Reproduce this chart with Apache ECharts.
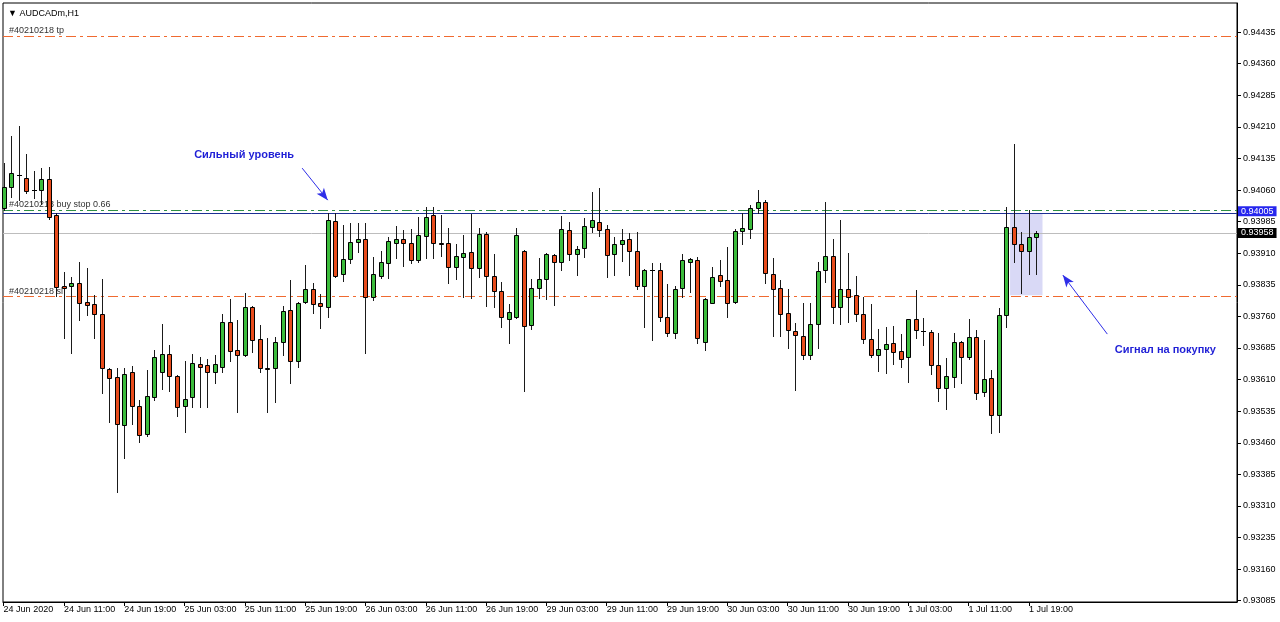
<!DOCTYPE html>
<html>
<head>
<meta charset="utf-8">
<script src="https://cdn.jsdelivr.net/npm/echarts@6/dist/echarts.min.js"></script>
<style>
html,body{margin:0;padding:0;background:#fff;}
#chart{width:1280px;height:622px;}
</style>
</head>
<body>
<div id="chart"></div>
<script>
// ---- Data (AUDCADm, H1) : one value per hourly bar, bar 0 = 24 Jun 03:00 ----
const open = [
0.94017,0.94068,0.94096,0.94088,0.94060,0.94060,0.94086,0.94001,0.93832,0.93831,
0.93840,0.93794,0.93790,0.93766,0.93635,0.93615,0.93502,0.93627,0.93547,0.93480,
0.93568,0.93629,0.93670,0.93619,0.93548,0.93568,0.93646,0.93645,0.93629,0.93641,
0.93746,0.93680,0.93668,0.93782,0.93706,0.93637,0.93637,0.93699,0.93775,0.93653,
0.93794,0.93824,0.93793,0.93783,0.93986,0.93860,0.93897,0.93937,0.93944,0.93805,
0.93857,0.93886,0.93935,0.93944,0.93934,0.93894,0.93951,0.94000,0.93934,0.93934,
0.93878,0.93902,0.93914,0.93874,0.93956,0.93857,0.93820,0.93754,0.93759,0.93916,
0.93739,0.93828,0.93848,0.93905,0.93890,0.93965,0.93908,0.93922,0.93972,0.93985,
0.93967,0.93908,0.93932,0.93943,0.93916,0.93833,0.93871,0.93869,0.93759,0.93720,
0.93827,0.93888,0.93894,0.93700,0.93793,0.93858,0.93846,0.93794,0.93963,0.93968,
0.94018,0.94032,0.93861,0.93827,0.93768,0.93725,0.93714,0.93668,0.93741,0.93870,
0.93904,0.93783,0.93825,0.93811,0.93766,0.93706,0.93668,0.93682,0.93698,0.93678,
0.93663,0.93753,0.93726,0.93724,0.93645,0.93591,0.93617,0.93699,0.93664,0.93710,
0.93581,0.93613,0.93526,0.93763,0.93973,0.93932,0.93915,0.93949
];
const close = [
0.94067,0.94100,0.94095,0.94058,0.94060,0.94086,0.93996,0.93830,0.93827,0.93840,
0.93793,0.93788,0.93766,0.93637,0.93613,0.93504,0.93623,0.93547,0.93479,0.93570,
0.93663,0.93670,0.93619,0.93544,0.93564,0.93649,0.93639,0.93629,0.93646,0.93746,
0.93679,0.93668,0.93782,0.93704,0.93637,0.93636,0.93699,0.93773,0.93653,0.93793,
0.93824,0.93790,0.93785,0.93989,0.93857,0.93897,0.93936,0.93943,0.93805,0.93860,
0.93888,0.93940,0.93944,0.93934,0.93894,0.93953,0.93997,0.93934,0.93933,0.93878,
0.93904,0.93911,0.93874,0.93956,0.93857,0.93821,0.93758,0.93770,0.93953,0.93737,
0.93827,0.93849,0.93907,0.93890,0.93967,0.93908,0.93919,0.93975,0.93989,0.93965,
0.93906,0.93931,0.93941,0.93916,0.93832,0.93869,0.93870,0.93759,0.93720,0.93824,
0.93894,0.93896,0.93708,0.93801,0.93853,0.93843,0.93791,0.93963,0.93969,0.94017,
0.94032,0.93864,0.93826,0.93765,0.93728,0.93716,0.93668,0.93741,0.93868,0.93904,
0.93783,0.93824,0.93807,0.93765,0.93706,0.93668,0.93683,0.93695,0.93676,0.93658,
0.93753,0.93727,0.93726,0.93645,0.93591,0.93619,0.93699,0.93663,0.93710,0.93579,
0.93612,0.93526,0.93763,0.93973,0.93932,0.93915,0.93949,0.93958
];
const high = [
0.94124,0.94188,0.94212,0.94145,0.94105,0.94112,0.94115,0.94005,0.93865,0.93854,
0.93890,0.93875,0.93811,0.93849,0.93638,0.93637,0.93637,0.93642,0.93562,0.93633,
0.93680,0.93742,0.93692,0.93621,0.93655,0.93671,0.93663,0.93658,0.93668,0.93766,
0.93801,0.93752,0.93815,0.93785,0.93740,0.93709,0.93712,0.93785,0.93846,0.93795,
0.93882,0.93840,0.93813,0.94005,0.94006,0.93977,0.93981,0.93982,0.93981,0.93902,
0.93916,0.93949,0.93975,0.93965,0.93967,0.93995,0.94019,0.94019,0.94001,0.93971,
0.93931,0.93954,0.94003,0.93969,0.93961,0.93908,0.93842,0.93790,0.93969,0.93918,
0.93849,0.93898,0.93910,0.93908,0.93999,0.93985,0.93927,0.93993,0.94055,0.94064,
0.93977,0.93949,0.93967,0.93959,0.93961,0.93873,0.93886,0.93886,0.93837,0.93832,
0.93907,0.93899,0.93900,0.93803,0.93878,0.93894,0.93924,0.93967,0.94006,0.94024,
0.94060,0.94036,0.93898,0.93846,0.93824,0.93745,0.93793,0.93791,0.93890,0.94032,
0.93943,0.93990,0.93911,0.93856,0.93807,0.93790,0.93730,0.93736,0.93737,0.93718,
0.93755,0.93823,0.93756,0.93728,0.93721,0.93661,0.93721,0.93702,0.93753,0.93728,
0.93704,0.93633,0.93779,0.94019,0.94169,0.93961,0.94013,0.93963
];
const low = [
0.94013,0.94044,0.94036,0.94053,0.94041,0.94027,0.93991,0.93808,0.93709,0.93673,
0.93752,0.93763,0.93709,0.93578,0.93510,0.93344,0.93423,0.93505,0.93463,0.93477,
0.93562,0.93587,0.93584,0.93524,0.93485,0.93546,0.93546,0.93544,0.93601,0.93629,
0.93653,0.93532,0.93666,0.93676,0.93629,0.93533,0.93556,0.93668,0.93601,0.93639,
0.93793,0.93767,0.93732,0.93759,0.93854,0.93845,0.93886,0.93914,0.93674,0.93799,
0.93850,0.93850,0.93898,0.93880,0.93886,0.93888,0.93898,0.93898,0.93903,0.93839,
0.93848,0.93807,0.93803,0.93853,0.93785,0.93783,0.93736,0.93698,0.93756,0.93583,
0.93730,0.93803,0.93801,0.93787,0.93869,0.93894,0.93858,0.93902,0.93961,0.93951,
0.93853,0.93858,0.93892,0.93858,0.93824,0.93736,0.93704,0.93748,0.93714,0.93708,
0.93807,0.93819,0.93698,0.93680,0.93791,0.93831,0.93758,0.93792,0.93932,0.93945,
0.94005,0.93839,0.93714,0.93714,0.93684,0.93586,0.93659,0.93659,0.93684,0.93842,
0.93744,0.93742,0.93746,0.93748,0.93696,0.93664,0.93631,0.93625,0.93647,0.93640,
0.93605,0.93708,0.93691,0.93623,0.93558,0.93540,0.93593,0.93601,0.93658,0.93563,
0.93570,0.93483,0.93486,0.93736,0.93888,0.93815,0.93860,0.93860
];

// time-axis tick labels, one every 8 bars starting at bar 0
const xTickLabels = [
'24 Jun 2020','24 Jun 11:00','24 Jun 19:00','25 Jun 03:00','25 Jun 11:00','25 Jun 19:00',
'26 Jun 03:00','26 Jun 11:00','26 Jun 19:00','29 Jun 03:00','29 Jun 11:00','29 Jun 19:00',
'30 Jun 03:00','30 Jun 11:00','30 Jun 19:00','1 Jul 03:00','1 Jul 11:00','1 Jul 19:00'
];
const xTickStep = 8;

// price-axis tick labels
const yTicks = [
0.93085,0.93160,0.93235,0.93310,0.93385,0.93460,0.93535,0.93610,0.93685,0.93760,
0.93835,0.93910,0.93985,0.94060,0.94135,0.94210,0.94285,0.94360,0.94435
];

// order / level prices
const levelTP = 0.94425;
const levelBuyStop = 0.94012;
const levelStrong = 0.94005;
const levelBid = 0.93958;
const levelSL = 0.93807;

// ---- Chart ----
const X_MIN = -0.08, X_MAX = 163.6;
const UP = '#3cbc3c', DOWN = '#e84c1c';
const xTickIdx = xTickLabels.map((_, k) => k * xTickStep);
const candles = open.map((o, i) => [i, o, close[i], low[i], high[i]]);
const FONT = 'Liberation Sans, Arial, sans-serif';

function renderCandle(params, api) {
  const i = api.value(0), o = api.value(1), c = api.value(2), l = api.value(3), h = api.value(4);
  const pO = api.coord([i, o]), pC = api.coord([i, c]), pH = api.coord([i, h]), pL = api.coord([i, l]);
  const x = Math.round(pO[0]) + 0.5;
  const top = Math.round(Math.min(pO[1], pC[1])) + 0.5;
  const bot = Math.round(Math.max(pO[1], pC[1])) + 0.5;
  const children = [{
    type: 'line',
    shape: {x1: x, y1: Math.round(pH[1]), x2: x, y2: Math.round(pL[1]) + 1},
    style: {stroke: '#1a1a1a', lineWidth: 1}
  }];
  if (bot - top < 1) {
    children.push({type: 'line', shape: {x1: x - 2.5, y1: top, x2: x + 2.5, y2: top},
      style: {stroke: '#000', lineWidth: 1}});
  } else {
    children.push({type: 'rect', shape: {x: x - 2, y: top, width: 4, height: bot - top},
      style: {fill: c > o ? UP : DOWN, stroke: '#000', lineWidth: 1}});
  }
  return {type: 'group', children};
}

const dashDot = [10, 4, 3, 4];
const leftLabel = (txt) => ({show: true, position: 'insideStartTop', formatter: txt,
  color: '#333', fontSize: 9, fontFamily: FONT, distance: [6, 1]});
const rightLabel = (txt, bg, dy) => ({show: true, position: 'end', formatter: txt, color: '#fff',
  backgroundColor: bg, padding: [1, 3, 0, 3], distance: 1, fontSize: 9, fontFamily: FONT,
  offset: [0, dy]});
const hLine = (price, style, label) => [
  {coord: [X_MIN, price], lineStyle: style, label: label},
  {coord: [X_MAX, price]}
];

const chart = echarts.init(document.getElementById('chart'), null, {renderer: 'canvas'});
chart.setOption({
  animation: false,
  backgroundColor: '#fff',
  title: {text: '\u25BC AUDCADm,H1', left: 3, top: 4,
    textStyle: {fontSize: 9, fontWeight: 'normal', color: '#000', fontFamily: FONT}},
  grid: {left: 3, right: 43, top: 3, bottom: 20, show: true, borderColor: '#000', borderWidth: 1,
    backgroundColor: 'transparent'},
  xAxis: {
    type: 'value', min: X_MIN, max: X_MAX,
    splitLine: {show: false},
    axisLine: {onZero: false, lineStyle: {color: '#000'}},
    axisTick: {show: true, customValues: xTickIdx, length: 4, lineStyle: {color: '#000'}},
    axisLabel: {customValues: xTickIdx, formatter: v => xTickLabels[Math.round(v / xTickStep)],
      align: 'left', fontSize: 9, fontFamily: FONT, color: '#000', margin: 3}
  },
  yAxis: {
    type: 'value', position: 'right', min: 0.93082, max: 0.94504, scale: true,
    splitLine: {show: false},
    axisLine: {show: true, onZero: false, lineStyle: {color: '#000'}},
    axisTick: {show: true, customValues: yTicks, length: 4, lineStyle: {color: '#000'}},
    axisLabel: {customValues: yTicks, formatter: v => v.toFixed(5), fontSize: 9,
      fontFamily: FONT, color: '#000', margin: 6}
  },
  series: [
    {
      type: 'line', data: [], z: 1, silent: true,
      markArea: {silent: true, z: 1, itemStyle: {color: '#d9d9f6'},
        data: [[{xAxis: 133.5, yAxis: levelStrong}, {xAxis: 137.8, yAxis: 0.93810}]]},
      markLine: {
        silent: true, z: 1, symbol: ['none', 'none'], animation: false,
        data: [
          hLine(levelTP, {color: '#f06a30', type: dashDot, width: 1}, leftLabel('#40210218 tp')),
          hLine(levelBid, {color: '#bdbdbd', type: 'solid', width: 1}, rightLabel(levelBid.toFixed(5), '#000', 0)),
          hLine(levelStrong, {color: '#1c2f94', type: 'solid', width: 1}, rightLabel(levelStrong.toFixed(5), '#2626ee', -2)),
          hLine(levelBuyStop, {color: '#2f8f45', type: dashDot, width: 1}, leftLabel('#40210218 buy stop 0.66')),
          hLine(levelSL, {color: '#f06a30', type: dashDot, width: 1}, leftLabel('#40210218 sl'))
        ]
      }
    },
    {
      type: 'custom', name: 'AUDCADm', z: 3,
      renderItem: renderCandle,
      encode: {x: 0, y: [1, 2, 3, 4]},
      data: candles
    },
    {
      type: 'line', data: [], z: 5, silent: true,
      markLine: {
        silent: true, symbol: ['none', 'arrow'], symbolSize: [7, 12], animation: false,
        lineStyle: {color: '#2e2ee8', width: 1, type: 'solid'},
        label: {show: false},
        data: [
          [{coord: [39.6, 0.94112]}, {coord: [43.0, 0.94036]}],
          [{coord: [146.4, 0.93718]}, {coord: [140.5, 0.93858]}]
        ]
      },
      markPoint: {
        silent: true, symbol: 'rect', symbolSize: 1, itemStyle: {color: 'rgba(0,0,0,0)'},
        label: {show: true, position: 'inside', color: '#1f1fd6', fontWeight: 'bold', fontSize: 11, fontFamily: FONT},
        data: [
          {coord: [31.9, 0.94143], label: {formatter: 'Сильный уровень'}},
          {coord: [154.1, 0.93680], label: {formatter: 'Сигнал на покупку'}}
        ]
      }
    }
  ]
});
</script>
</body>
</html>
